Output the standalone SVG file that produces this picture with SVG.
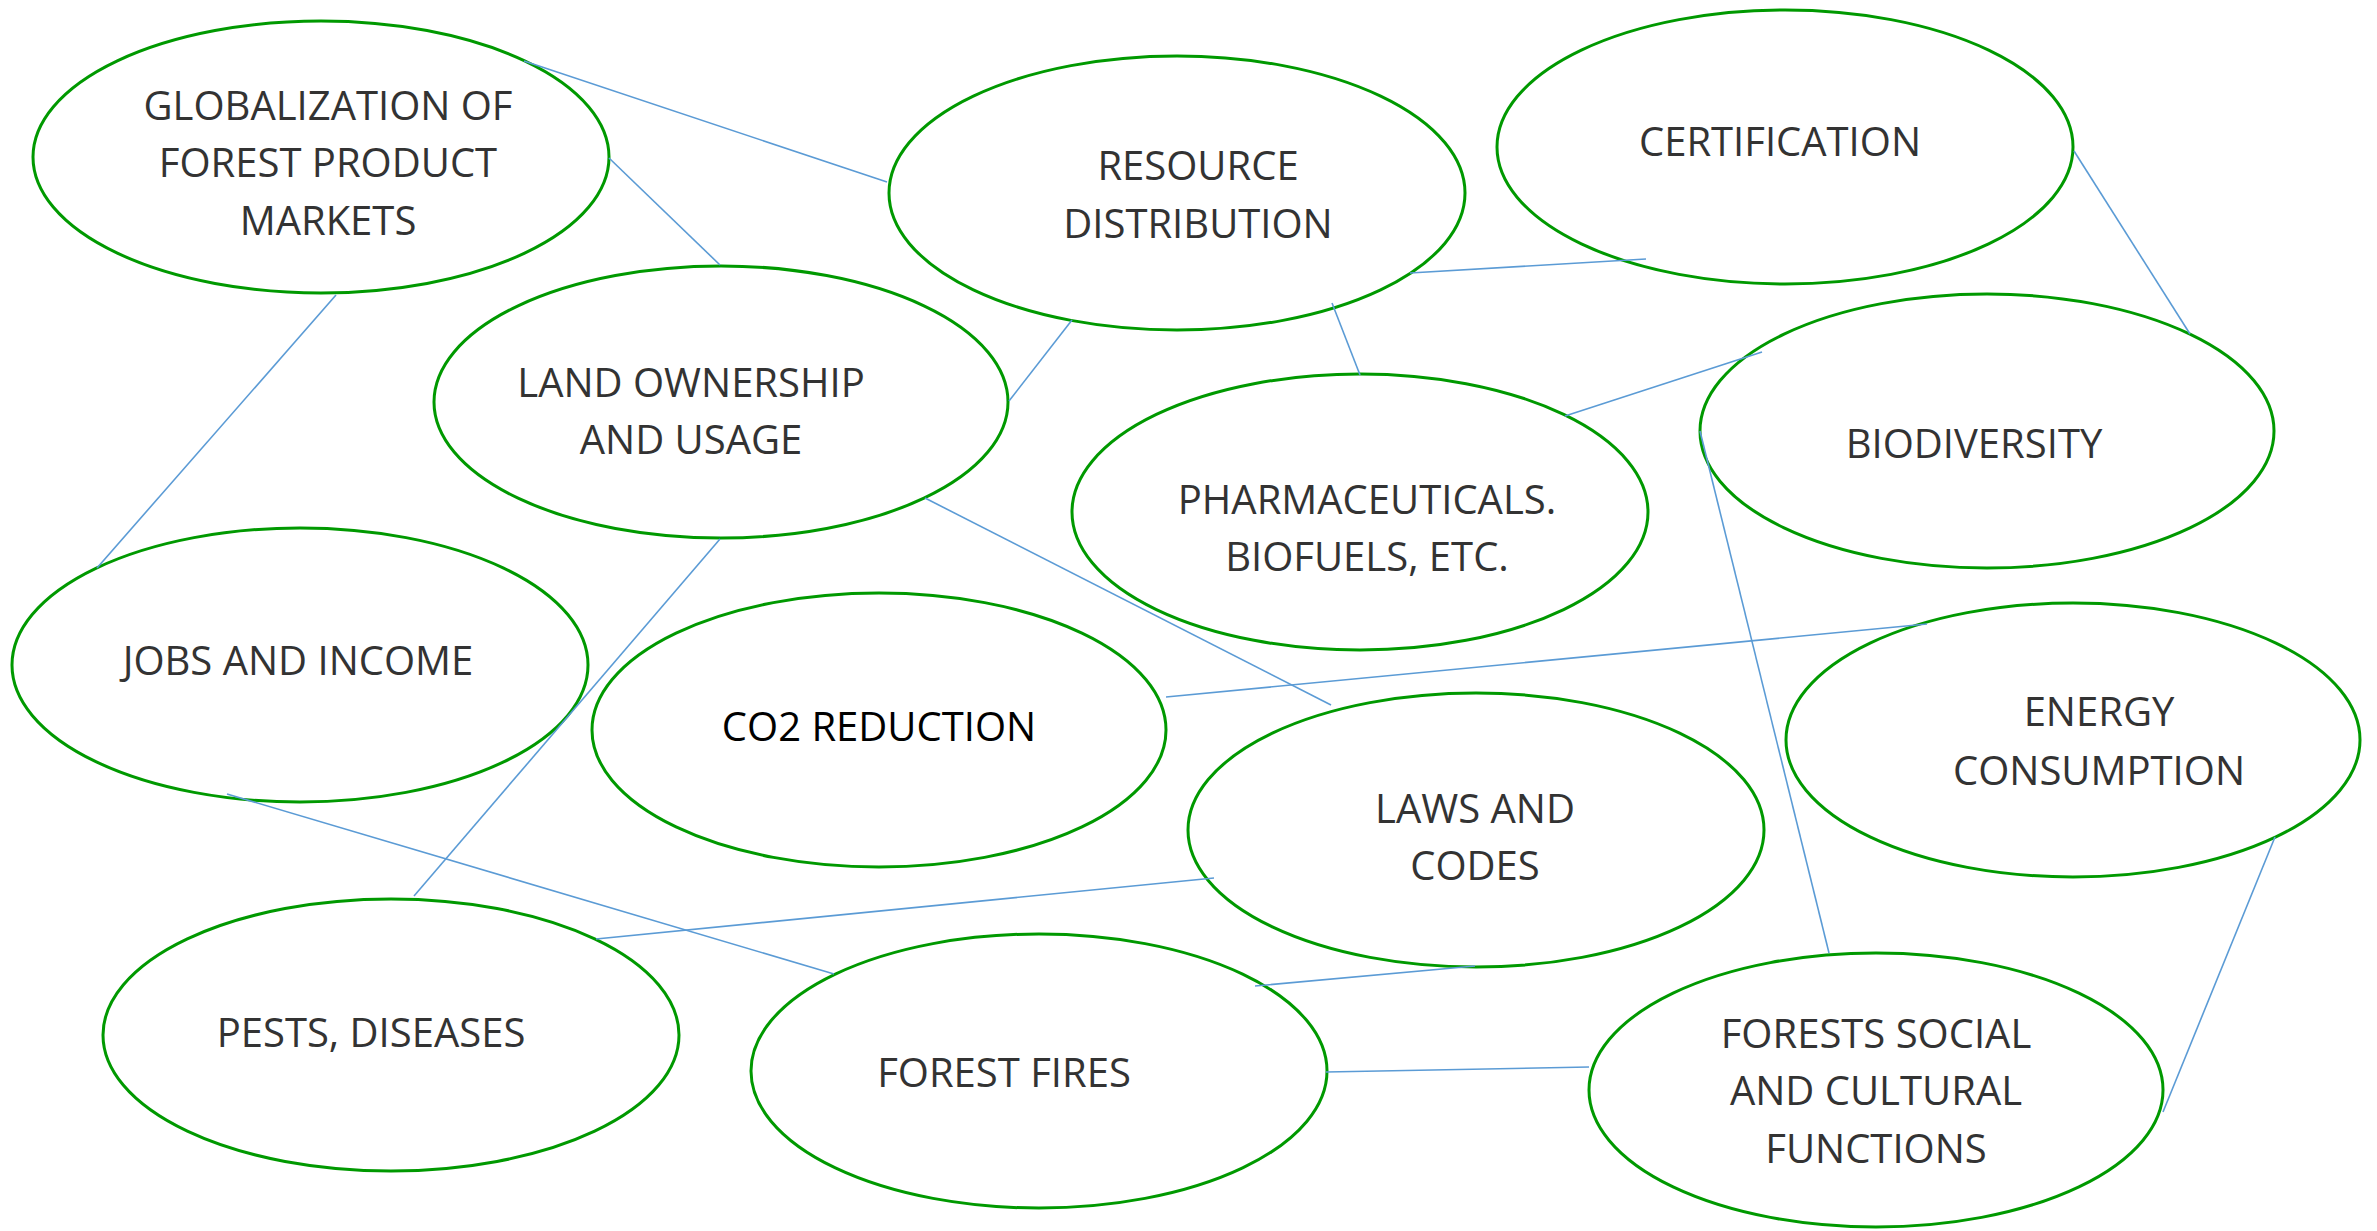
<svg xmlns="http://www.w3.org/2000/svg" width="2377" height="1231" viewBox="0 0 2377 1231">
  <style>
    .node ellipse { fill: #ffffff; stroke: #009900; stroke-width: 3; }
    .node text { font-family: "Open Sans", "Noto Sans", "Liberation Sans", sans-serif; font-size: 40px; fill: #333333; text-anchor: middle; }
    .node text.dark { fill: #000000; }
    #connectors line { stroke: #5b9bd5; stroke-width: 1.6; fill: none; }
  </style>
  <rect x="0" y="0" width="2377" height="1231" fill="#ffffff"/>

  <g id="globalization" class="node">
    <ellipse cx="321" cy="157" rx="288" ry="136"/>
    <text x="328" y="120">GLOBALIZATION OF</text>
    <text x="328" y="177">FOREST PRODUCT</text>
    <text x="328" y="235">MARKETS</text>
  </g>
  <g id="resource-distribution" class="node">
    <ellipse cx="1177" cy="193" rx="288" ry="137"/>
    <text x="1198" y="180">RESOURCE</text>
    <text x="1198" y="238">DISTRIBUTION</text>
  </g>
  <g id="certification" class="node">
    <ellipse cx="1785" cy="147" rx="288" ry="137"/>
    <text x="1780" y="156">CERTIFICATION</text>
  </g>
  <g id="land-ownership" class="node">
    <ellipse cx="721" cy="402" rx="287" ry="136"/>
    <text x="691" y="397">LAND OWNERSHIP</text>
    <text x="691" y="454">AND USAGE</text>
  </g>
  <g id="biodiversity" class="node">
    <ellipse cx="1987" cy="431" rx="287" ry="137"/>
    <text x="1974" y="458">BIODIVERSITY</text>
  </g>
  <g id="pharmaceuticals" class="node">
    <ellipse cx="1360" cy="512" rx="288" ry="138"/>
    <text x="1367" y="514">PHARMACEUTICALS.</text>
    <text x="1367" y="571">BIOFUELS, ETC.</text>
  </g>
  <g id="jobs-income" class="node">
    <ellipse cx="300" cy="665" rx="288" ry="137"/>
    <text x="298" y="675">JOBS AND INCOME</text>
  </g>
  <g id="co2-reduction" class="node">
    <ellipse cx="879" cy="730" rx="287" ry="137"/>
    <text class="dark" x="879" y="741">CO2 REDUCTION</text>
  </g>
  <g id="energy-consumption" class="node">
    <ellipse cx="2073" cy="740" rx="287" ry="137"/>
    <text x="2099" y="726">ENERGY</text>
    <text x="2099" y="785">CONSUMPTION</text>
  </g>
  <g id="laws-codes" class="node">
    <ellipse cx="1476" cy="830" rx="288" ry="137"/>
    <text x="1475" y="823">LAWS AND</text>
    <text x="1475" y="880">CODES</text>
  </g>
  <g id="pests-diseases" class="node">
    <ellipse cx="391" cy="1035" rx="288" ry="136"/>
    <text x="371" y="1047">PESTS, DISEASES</text>
  </g>
  <g id="forest-fires" class="node">
    <ellipse cx="1039" cy="1071" rx="288" ry="137"/>
    <text x="1004" y="1087">FOREST FIRES</text>
  </g>
  <g id="forests-social" class="node">
    <ellipse cx="1876" cy="1090" rx="287" ry="137"/>
    <text x="1876" y="1048">FORESTS SOCIAL</text>
    <text x="1876" y="1105">AND CULTURAL</text>
    <text x="1876" y="1163">FUNCTIONS</text>
  </g>

  <g id="connectors">
    <line x1="524" y1="61" x2="887" y2="182"/>
    <line x1="609" y1="158" x2="720" y2="265"/>
    <line x1="336" y1="295" x2="97" y2="568"/>
    <line x1="1072" y1="320" x2="1009" y2="401"/>
    <line x1="1332" y1="303" x2="1360" y2="375"/>
    <line x1="1410" y1="273" x2="1646" y2="259"/>
    <line x1="1565" y1="416" x2="1762" y2="352"/>
    <line x1="2074" y1="151" x2="2190" y2="334"/>
    <line x1="925" y1="498" x2="1331" y2="705"/>
    <line x1="720" y1="539" x2="414" y2="896"/>
    <line x1="1166" y1="697" x2="1927" y2="624"/>
    <line x1="227" y1="794" x2="834" y2="974"/>
    <line x1="596" y1="939" x2="1214" y2="878"/>
    <line x1="1255" y1="986" x2="1475" y2="966"/>
    <line x1="1326" y1="1072" x2="1589" y2="1067"/>
    <line x1="1700" y1="431" x2="1829" y2="953"/>
    <line x1="2275" y1="837" x2="2163" y2="1112"/>
  </g>
</svg>
